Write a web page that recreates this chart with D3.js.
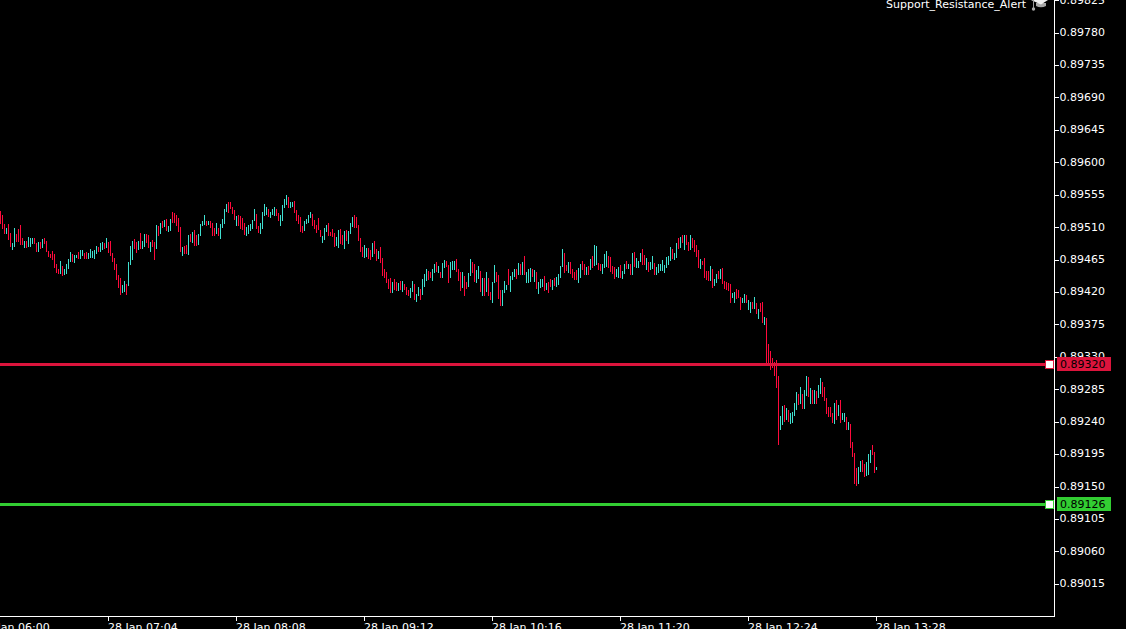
<!DOCTYPE html>
<html lang="en">
<head>
    <title>Support_Resistance_Alert</title>
    <meta charset="UTF-8">
    <script src="https://d3js.org/d3.v7.min.js"></script>
    <style>
        html, body { margin: 0; padding: 0; background: #000; overflow: hidden; }
        svg { display: block; }
        text { font-family: "DejaVu Sans", sans-serif; font-size: 11px; fill: #fff; }
        .axis path { display: none; }
        .axis line { stroke: #fff; shape-rendering: crispEdges; }
        .axis text { fill: #fff; font-size: 11px; }
        .frame { stroke: #fff; shape-rendering: crispEdges; }
        .bar { shape-rendering: crispEdges; }
    </style>
</head>
<body>
<script>
    var priceBase = 0.89, pointSize = 0.00001;
    var firstBar = "2021-01-28T06:10:00Z";

    var barHigh = [
        532,527,515,509,514,502,488,509,500,507,
        513,495,491,491,496,495,495,495,488,489,
        489,494,495,491,477,473,477,473,459,452,
        463,456,452,459,466,476,473,471,471,476,
        478,478,474,476,474,480,477,478,484,482,
        488,489,488,495,489,491,474,467,459,444,
        439,430,435,431,462,484,491,494,489,491,
        502,491,500,500,499,489,492,489,513,512,
        516,519,520,521,512,521,531,530,527,523,
        510,482,484,485,499,500,503,506,499,500,
        514,519,527,519,519,519,516,509,516,509,
        514,521,535,542,545,545,538,534,526,527,
        526,523,516,510,513,514,520,535,528,512,

        516,531,542,538,535,531,535,538,535,530,
        527,541,549,555,552,545,545,546,534,527,
        524,512,519,521,527,531,528,520,513,523,
        506,498,509,513,516,503,507,502,496,506,
        507,499,505,506,505,516,524,527,524,513,
        495,482,485,481,481,478,488,491,480,477,
        482,467,452,448,438,439,434,438,434,432,
        435,435,431,427,423,426,435,431,417,427,
        424,438,445,452,449,448,452,459,462,456,
        448,460,464,463,458,462,463,463,466,452,
        448,448,442,434,446,466,462,459,451,456,
        449,439,439,448,439,420,434,458,448,444,
        423,423,435,430,452,442,448,452,452,460,

        459,462,470,448,452,453,452,450,448,434,
        438,438,442,432,434,438,437,439,441,445,
        456,480,474,457,462,462,452,448,450,453,
        459,463,459,455,456,466,470,485,484,460,
        459,459,473,477,470,469,456,455,452,455,
        457,449,459,463,459,459,474,475,467,463,
        474,480,471,467,462,462,470,460,455,459,
        459,464,457,469,470,482,480,474,488,495,
        496,499,499,499,489,499,495,492,485,478,
        466,463,467,449,449,456,452,438,445,449,
        452,453,435,434,432,431,419,420,424,423,
        413,412,417,416,409,406,406,413,405,396,

        405,406,385,384,348,338,328,323,326,303,
        248,262,263,259,256,252,253,266,281,278,
        288,278,284,303,302,287,284,284,283,291,
        301,295,288,273,260,260,252,266,270,263,
        270,252,252,246,240,237,212,196,176,177,
        185,187,181,184,195,201,208,198,177
    ];

    var barLow = [
        515,507,500,500,492,482,478,482,489,490,
        485,485,481,481,482,483,487,487,476,476,
        480,481,487,476,469,467,464,453,446,445,
        445,442,444,445,452,462,462,460,467,466,
        466,470,466,466,466,467,467,466,473,476,
        476,478,480,481,474,470,462,451,437,426,
        416,419,420,416,428,458,464,480,474,478,
        480,480,482,488,481,476,482,464,480,498,
        500,509,510,505,503,505,516,516,512,503,
        476,470,473,473,471,489,488,484,484,485,
        498,512,513,512,513,509,498,498,500,498,
        494,509,514,531,530,535,528,520,512,512,
        507,506,499,498,500,505,507,519,507,502,

        500,507,526,527,524,523,527,526,526,519,
        512,519,537,541,537,537,538,530,519,514,
        503,502,505,514,516,523,512,507,502,506,
        496,488,492,503,498,498,496,482,484,481,
        487,485,480,491,487,500,510,509,509,491,
        476,469,467,469,466,464,469,473,463,466,
        460,442,439,432,424,419,419,423,421,421,
        423,420,423,416,414,412,420,409,406,414,
        409,416,427,435,437,439,435,446,448,446,
        439,439,453,455,432,439,451,451,448,435,
        421,426,414,424,427,442,446,434,432,438,
        420,414,414,420,414,409,405,432,434,410,
        401,401,419,423,430,420,437,441,438,444,

        444,444,444,432,432,434,441,434,424,417,
        425,427,421,423,419,427,423,428,427,430,
        439,455,446,449,446,445,439,437,437,432,
        439,450,444,444,444,450,453,456,457,450,
        449,445,453,455,453,448,445,438,441,439,
        439,438,445,452,452,444,444,455,453,453,
        462,457,457,450,448,450,452,444,444,446,
        449,449,446,453,457,463,466,464,467,480,
        481,488,478,485,477,478,481,475,469,453,
        452,457,439,437,435,435,425,428,432,438,
        438,431,424,423,421,405,412,405,410,412,
        395,405,405,405,395,391,396,396,389,382,

        392,377,374,320,320,312,315,303,287,208,
        229,235,240,242,240,237,238,248,256,263,
        265,258,258,276,274,265,265,265,265,273,
        278,274,269,251,246,246,238,237,242,248,
        238,242,240,229,229,203,191,153,151,153,
        170,170,163,165,166,183,194,169,173
    ];

    // 1 = up bar (turquoise), 0 = down bar (red)
    var barUp = [
        0,0,0,1,0,0,1,1,0,0,
        0,0,1,0,1,1,1,0,0,1,
        0,1,0,0,0,0,0,0,0,0,
        1,0,1,1,1,1,0,1,1,0,
        1,1,0,0,1,1,1,1,1,0,
        1,1,0,1,0,0,0,0,0,0,
        0,1,1,0,1,1,1,0,0,1,
        0,1,1,0,0,1,0,0,1,0,
        1,0,1,0,1,1,0,0,0,0,
        0,1,0,0,1,0,1,0,0,1,
        1,1,1,0,1,0,0,0,1,0,
        1,1,1,1,0,0,0,0,1,0,
        0,0,0,1,1,1,1,1,0,0,

        1,1,1,1,0,1,1,1,0,0,
        1,1,1,1,0,1,1,0,0,0,
        0,0,1,1,1,1,0,0,0,0,
        0,1,1,1,0,0,0,0,1,1,
        0,0,1,0,1,1,1,0,0,0,
        0,0,1,1,0,0,1,0,0,1,
        0,0,0,0,0,0,1,0,0,1,
        0,1,0,0,0,1,1,0,1,1,
        0,1,1,1,0,0,1,1,0,1,
        0,1,1,0,0,1,1,1,0,0,
        0,1,0,0,1,1,0,0,1,1,
        0,1,0,1,0,0,1,1,0,0,
        0,1,1,1,0,1,1,1,0,1,

        0,1,0,1,1,1,0,1,0,1,
        1,1,0,1,0,0,1,0,1,1,
        1,1,0,0,1,0,0,0,0,1,
        1,0,0,1,0,1,0,1,1,0,
        0,1,1,1,0,0,0,0,1,1,
        0,1,1,0,1,0,1,0,1,1,
        1,0,0,1,0,1,1,0,1,1,
        1,1,1,1,1,1,0,1,1,0,
        1,0,1,0,0,1,0,0,0,0,
        1,0,0,0,0,1,0,1,1,0,
        1,0,0,0,0,0,1,1,0,0,
        0,1,1,0,1,1,0,1,0,1,

        0,0,1,0,0,0,0,0,0,0,
        1,1,0,1,0,1,1,1,1,0,
        1,0,1,1,0,1,0,1,0,1,
        1,0,0,0,0,0,0,1,0,1,
        0,1,1,0,1,0,0,0,0,1,
        1,0,0,1,1,1,0,0,1
    ];

    var priceTicks = [0.89825, 0.8978, 0.89735, 0.8969, 0.89645, 0.896, 0.89555, 0.8951, 0.89465,
        0.8942, 0.89375, 0.8933, 0.89285, 0.8924, 0.89195, 0.8915, 0.89105, 0.8906, 0.89015];
    var timeTicks = ["06:00", "07:04", "08:08", "09:12", "10:16", "11:20", "12:24", "13:28"];
    var levelPrices = [0.8932, 0.89126];
    var levelColors = ["#dc143c", "#32cd32"];
    var chartTitle = "Support_Resistance_Alert";

    function draw() {
        "use strict";

        var width = 1126, height = 629;
        var axisX = 1054, axisY = 616;

        var svg = d3.select("body").append("svg")
            .attr("width", width)
            .attr("height", height);

        var parseTick = function(t) { return new Date("2021-01-28T" + t + ":00Z"); };

        var xScale = d3.scaleUtc()
            .domain([parseTick("06:00"), parseTick("13:28")])
            .range([-20, 876]);

        var yScale = d3.scaleLinear()
            .domain([0.89015, 0.89825])
            .range([583.8, 0.2]);

        var barTime = function(i) { return new Date(+new Date(firstBar) + i * 60000); };

        // bars
        svg.selectAll(".bar")
            .data(barHigh)
            .enter()
            .append("rect")
            .attr("class", "bar")
            .attr("x", function(d, i) { return xScale(barTime(i)); })
            .attr("y", function(d) { return yScale(priceBase + d * pointSize); })
            .attr("width", 1)
            .attr("height", function(d, i) {
                return yScale(priceBase + barLow[i] * pointSize) - yScale(priceBase + d * pointSize);
            })
            .attr("fill", function(d, i) { return barUp[i] ? "#40e0d0" : "#ff0a3c"; });

        // price axis
        var yAxis = d3.axisRight(yScale)
            .tickValues(priceTicks)
            .tickSize(4)
            .tickPadding(1)
            .tickFormat(d3.format(".5f"));

        var yG = svg.append("g")
            .attr("class", "y axis")
            .attr("transform", "translate(" + (axisX + 0.5) + ",0)")
            .call(yAxis);

        yG.selectAll("text")
            .attr("x", 5)
            .attr("dy", "0.26em");

        // time axis
        var xAxis = d3.axisBottom(xScale)
            .tickValues(timeTicks.map(parseTick))
            .tickSize(4)
            .tickFormat(function(d) { return "28 Jan " + d3.utcFormat("%H:%M")(d); });

        var xG = svg.append("g")
            .attr("class", "x axis")
            .attr("transform", "translate(0," + (axisY + 0.5) + ")")
            .call(xAxis);

        xG.selectAll("text")
            .attr("text-anchor", "start")
            .attr("x", -0.5)
            .attr("y", 7);

        svg.append("line").attr("class", "frame")
            .attr("x1", axisX + 0.5).attr("x2", axisX + 0.5)
            .attr("y1", 0).attr("y2", axisY + 1);
        svg.append("line").attr("class", "frame")
            .attr("x1", 0).attr("x2", axisX + 1)
            .attr("y1", axisY + 0.5).attr("y2", axisY + 0.5);

        // support and resistance levels
        var level = svg.selectAll(".level")
            .data(levelPrices)
            .enter()
            .append("g")
            .attr("class", "level");

        level.append("line")
            .attr("x1", 0)
            .attr("x2", 1046)
            .attr("y1", function(d) { return Math.round(yScale(d)) + 0.5; })
            .attr("y2", function(d) { return Math.round(yScale(d)) + 0.5; })
            .attr("stroke", function(d, i) { return levelColors[i]; })
            .attr("stroke-width", 3)
            .style("shape-rendering", "crispEdges");

        level.append("rect")
            .attr("x", 1045.5)
            .attr("y", function(d) { return Math.round(yScale(d)) - 3.5; })
            .attr("width", 8)
            .attr("height", 8)
            .attr("fill", "#fff")
            .attr("stroke", function(d, i) { return levelColors[i]; })
            .style("shape-rendering", "crispEdges");

        level.append("rect")
            .attr("x", 1057)
            .attr("y", function(d) { return Math.round(yScale(d)) - 7; })
            .attr("width", 54)
            .attr("height", 14)
            .attr("fill", function(d, i) { return levelColors[i]; });

        level.append("text")
            .attr("x", 1060)
            .attr("y", function(d) { return yScale(d); })
            .attr("dy", "0.36em")
            .style("fill", "#000")
            .text(d3.format(".5f"));

        // indicator name and the cap icon
        svg.append("text")
            .attr("x", 1026)
            .attr("y", 8)
            .attr("text-anchor", "end")
            .text(chartTitle);

        var cap = svg.append("g").attr("transform", "translate(1031,0)");
        cap.append("path")
            .attr("d", "M5,3 L5,6 Q10,8.5 15,6 L15,3 Z")
            .attr("fill", "#a8a8a8");
        cap.append("path")
            .attr("d", "M0,0 L17,0 L10,4.5 Z")
            .attr("fill", "#f0f0f0");
        cap.append("line")
            .attr("x1", 2.5).attr("x2", 2.5)
            .attr("y1", 0).attr("y2", 8)
            .attr("stroke", "#999");
        cap.append("circle")
            .attr("cx", 2.5).attr("cy", 9).attr("r", 1.7)
            .attr("fill", "#aaa");
    }

    draw();
</script>
</body>
</html>
